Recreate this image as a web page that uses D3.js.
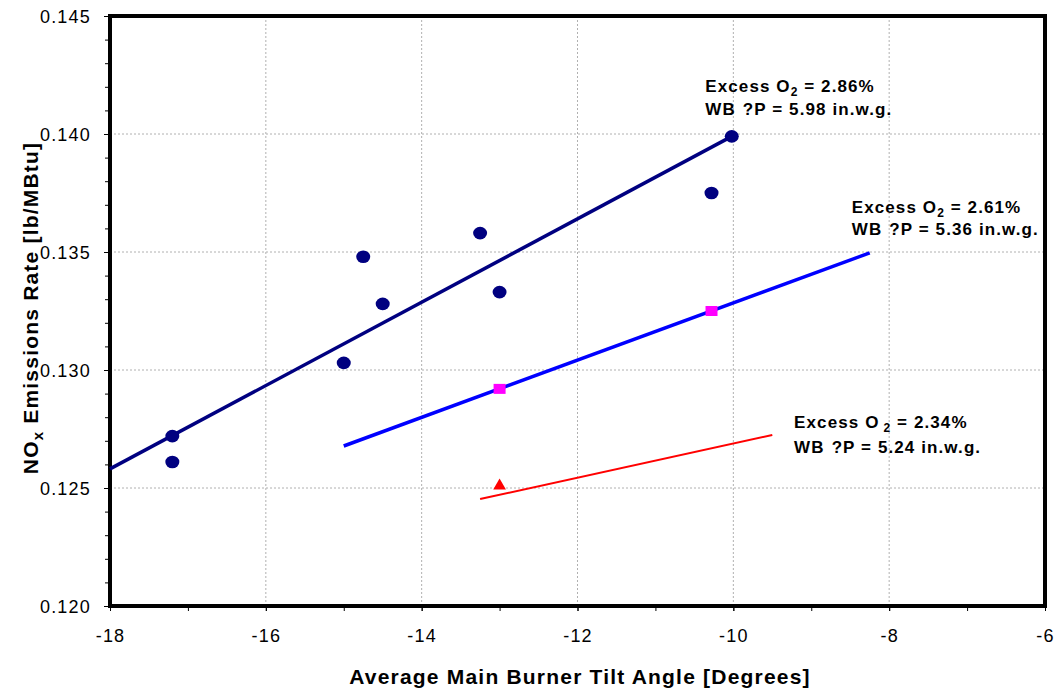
<html>
<script src="https://d3js.org/d3.v7.min.js"></script>
<style>
    body {margin: 0; background: white;}
    text {font-family: Arial, "Liberation Sans", sans-serif;}
    .grid line {stroke: #b0b0b0; stroke-dasharray: 2,2; stroke-width: 1;}
    .axis path, .axis line {stroke: black;}
    .axis text {font-size: 18px; fill: black; letter-spacing: 1.2px;}
    .note {font-size: 17px; font-weight: bold; letter-spacing: 1.1px;}
</style>
<body>
<svg width=1056 height=691></svg>
<script>
// series 1: excess O2 2.86%
var s1x = [-17.2, -17.2, -15.0, -14.75, -14.5, -13.25, -13.0, -10.28, -10.02];
var s1y = [0.1272, 0.1261, 0.1303, 0.1348, 0.1328, 0.1358, 0.1333, 0.1375, 0.1399];
var fit1x = [-18, -10.02];
var fit1y = [0.12581, 0.1399];
// series 2: excess O2 2.61%
var s2x = [-13.0, -10.28];
var s2y = [0.1292, 0.1325];
var fit2x = [-15.0, -8.25];
var fit2y = [0.12678, 0.13496];
// series 3: excess O2 2.34%
var s3x = [-13.0];
var s3y = [0.12513];
var fit3x = [-13.25, -9.5];
var fit3y = [0.12453, 0.12725];

var xTicks = [-18, -16, -14, -12, -10, -8, -6];
var yTicks = [0.120, 0.125, 0.130, 0.135, 0.140, 0.145];
var notes = [
    {x: -10.36, y: 0.14178, o2: "2.86%", dp: "5.98", gap: 23, sub: 0},
    {x: -8.48, y: 0.13666, o2: "2.61%", dp: "5.36", gap: 22, sub: 0},
    {x: -9.22, y: 0.12754, o2: "2.34%", dp: "5.24", gap: 25, sub: 4}
];

var svg = d3.select('svg');
var L = 110, R = 1045, T = 16, B = 606;
var xs = d3.scaleLinear().domain([-18, -6]).range([L, R]);
var ys = d3.scaleLinear().domain([0.120, 0.145]).range([B, T]);

// grid
svg.append("g").attr("class", "grid")
    .selectAll("line").data(xTicks.slice(1, -1)).enter().append("line")
    .attr("x1", d => xs(d)).attr("x2", d => xs(d)).attr("y1", T).attr("y2", B);
svg.append("g").attr("class", "grid")
    .selectAll("line").data(yTicks.slice(1, -1)).enter().append("line")
    .attr("y1", d => ys(d)).attr("y2", d => ys(d)).attr("x1", L).attr("x2", R);

// minor ticks
svg.append("g").attr("class", "axis")
    .attr("transform", "translate(" + L + ",0)")
    .call(d3.axisLeft(ys).ticks(25).tickSize(5).tickFormat(""))
    .select(".domain").remove();
svg.append("g").attr("class", "axis")
    .attr("transform", "translate(0," + B + ")")
    .call(d3.axisBottom(xs).ticks(12).tickSize(5).tickFormat(""))
    .select(".domain").remove();

// labelled ticks
svg.append("g").attr("class", "axis")
    .attr("transform", "translate(" + L + ",0)")
    .call(d3.axisLeft(ys).tickValues(yTicks).tickSize(6).tickPadding(13).tickFormat(d3.format(".3f")))
    .call(g => g.select(".domain").remove())
    .call(g => g.selectAll("text").attr("dy", "0.35em"));
svg.append("g").attr("class", "axis")
    .attr("transform", "translate(0," + B + ")")
    .call(d3.axisBottom(xs).tickValues(xTicks).tickSize(5).tickPadding(18).tickFormat(d3.format("d")))
    .call(g => g.select(".domain").remove())
    .call(g => g.selectAll("text").text(d => String(d)));

// frame
svg.append("rect").attr("x", L).attr("y", T).attr("width", R - L).attr("height", B - T)
    .attr("fill", "none").attr("stroke", "black").attr("stroke-width", 4);

// trend lines
var line = d3.line().x(d => xs(d[0])).y(d => ys(d[1]));
svg.append("path").datum(d3.zip(fit1x, fit1y)).attr("d", line)
    .attr("stroke", "#000080").attr("stroke-width", 3.5).attr("fill", "none");
svg.append("path").datum(d3.zip(fit2x, fit2y)).attr("d", line)
    .attr("stroke", "#0000ff").attr("stroke-width", 3.5).attr("fill", "none");
svg.append("path").datum(d3.zip(fit3x, fit3y)).attr("d", line)
    .attr("stroke", "#ff0000").attr("stroke-width", 2).attr("fill", "none");

// markers
svg.append("g").selectAll("ellipse").data(d3.zip(s1x, s1y)).enter().append("ellipse")
    .attr("cx", d => xs(d[0])).attr("cy", d => ys(d[1]))
    .attr("rx", 7).attr("ry", 6.3).attr("fill", "#000080");
svg.append("g").selectAll("rect").data(d3.zip(s2x, s2y)).enter().append("rect")
    .attr("x", d => xs(d[0]) - 6).attr("y", d => ys(d[1]) - 5)
    .attr("width", 12).attr("height", 10).attr("fill", "#ff00ff");
svg.append("g").selectAll("path").data(d3.zip(s3x, s3y)).enter().append("path")
    .attr("d", d3.symbol().type(d3.symbolTriangle).size(70))
    .attr("transform", d => "translate(" + xs(d[0]) + "," + (ys(d[1]) + 1) + ")")
    .attr("fill", "#ff0000");

// annotations
var n = svg.append("g").selectAll("g").data(notes).enter().append("g")
    .attr("transform", d => "translate(" + xs(d.x) + "," + ys(d.y) + ")");
var t1 = n.append("text").attr("class", "note");
t1.append("tspan").text("Excess O");
t1.append("tspan").attr("font-size", "12px").attr("dy", 4).attr("dx", d => d.sub).text("2");
t1.append("tspan").attr("dy", -4).text(d => " = " + d.o2);
var t2 = n.append("text").attr("class", "note").attr("y", d => d.gap);
t2.append("tspan").text("WB");
t2.append("tspan").attr("dx", 7).text(d => "?P = " + d.dp + " in.w.g.");

// axis titles
svg.append("text")
    .attr("transform", "translate(580,684)")
    .style("text-anchor", "middle").style("font-size", "21px").style("font-weight", "bold")
    .style("letter-spacing", "1.2px")
    .text("Average Main Burner Tilt Angle [Degrees]");
var yt = svg.append("text")
    .attr("transform", "translate(38,308) rotate(-90)")
    .style("text-anchor", "middle").style("font-size", "21px").style("font-weight", "bold")
    .style("letter-spacing", "1.2px");
yt.append("tspan").text("NO");
yt.append("tspan").attr("font-size", "15px").attr("dy", 5).text("x");
yt.append("tspan").attr("dy", -5).text(" Emissions Rate [lb/MBtu]");
</script>
</body>
</html>
